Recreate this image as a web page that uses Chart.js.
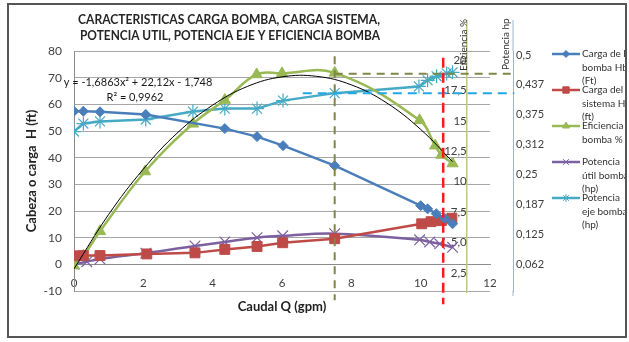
<!DOCTYPE html>
<html>
<head>
<meta charset="utf-8">
<script src="https://cdn.jsdelivr.net/npm/chart.js@4.4.1/dist/chart.umd.min.js"></script>
<style>
  html, body { margin: 0; padding: 0; background: #fff; }
  #wrap { position: relative; width: 629px; height: 342px; }
  #wrap canvas { position: absolute; left: 0; top: 0; }
  #frame { position: absolute; left: 7px; top: 3px; width: 616px; height: 331px; border: 2px solid #555; pointer-events: none; }
</style>
</head>
<body>
<div id="wrap">
  <canvas id="myChart" width="629" height="342"></canvas>
  <div id="frame"></div>
</div>
<script>
const qBomba = [0, 0.27, 0.75, 2.07, 4.35, 5.28, 6.03, 7.52, 10.0, 10.2, 10.45, 10.7, 10.92];
const hBomba = [57.4, 57.4, 57.2, 56.2, 50.9, 47.9, 44.5, 37.0, 22.0, 20.8, 19.0, 17.2, 15.2];

const qSistema = [0, 0.27, 0.75, 2.1, 3.49, 4.35, 5.28, 6.02, 7.52, 10.03, 10.3, 10.6, 10.9];
const hSistema = [3.2, 3.3, 3.3, 3.9, 4.3, 5.6, 6.7, 8.1, 9.6, 15.2, 16.0, 16.4, 17.3];

const qEficiencia = [0, 0.27, 0.75, 2.05, 3.43, 4.35, 5.27, 6.0, 7.52, 9.97, 10.42, 10.6, 10.92];
const eficiencia = [-0.5, 3.2, 12.4, 34.8, 52.7, 61.6, 71.2, 71.6, 71.8, 54.0, 44.5, 41.0, 37.8];

const qUtil = [0, 0.37, 0.75, 2.07, 3.49, 4.35, 5.28, 6.02, 7.52, 9.97, 10.26, 10.55, 10.92];
const potUtil = [0, 1.0, 2.0, 4.2, 6.9, 8.4, 10.0, 10.7, 11.5, 9.2, 8.4, 7.7, 6.4];

const qEje = [0, 0.27, 0.75, 2.07, 3.43, 4.35, 5.28, 6.03, 7.52, 9.95, 10.2, 10.46, 10.75, 10.92];
const potEje = [49.8, 52.8, 53.6, 54.3, 57.3, 58.4, 58.4, 61.4, 64.2, 66.7, 69.0, 70.5, 71.6, 72.0];

// linea de tendencia (polinomica)
const qTendencia = [0, 1, 2, 3, 4, 5, 6, 7, 8, 9, 10, 10.92];
const tendencia = [-1.7, 18.7, 35.7, 49.5, 59.7, 66.7, 70.3, 70.5, 67.3, 60.7, 50.6, 38.5];

// lineas guia punteadas
const qGuiaEf = [7.52, 7.52];
const yGuiaEf = [78, -13.5];
const qGuiaEfH = [7.52, 12.6];
const yGuiaEfH = [71.5, 71.5];
const qOperacion = [10.65, 10.65];
const yOperacion = [77.5, -15];
const qGuiaEje = [6.6, 12.7];
const yGuiaEje = [64.2, 64.2];

// ejes secundarios
const efTicks = [2.5, 5, 7.5, 10, 12.5, 15, 17.5, 20];
const efTickLabels = ['2,5', '5,0', '7,5', '10', '12,5', '15', '17,5', '20'];
const hpTicks = [0.0625, 0.125, 0.1875, 0.25, 0.3125, 0.375, 0.4375, 0.5];
const hpTickLabels = ['0,062', '0,125', '0,187', '0,25', '0,312', '0,375', '0,437', '0,5'];

const titulo = ['CARACTERISTICAS CARGA BOMBA, CARGA SISTEMA,', 'POTENCIA UTIL, POTENCIA EJE Y EFICIENCIA BOMBA'];
const leyenda = [
    ['Carga de la', 'bomba Hb', '(Ft)'],
    ['Carga del', 'sistema Hs', '(ft)'],
    ['Eficiencia', 'bomba %'],
    ['Potencia', 'útil bomba', '(hp)'],
    ['Potencia', 'eje bomba', '(hp)']
];

const colores = {
    bomba: '#4a7ebb',
    sistema: '#be4b48',
    eficiencia: '#98b954',
    util: '#7d60a0',
    eje: '#46aac5'
};
const marcas = [
    { style: 'rectRot', color: colores.bomba, r: 3.5 },
    { style: 'rect', color: colores.sistema, r: 4.5 },
    { style: 'triangle', color: colores.eficiencia, r: 4 },
    { style: 'crossRot', color: colores.util, r: 4 },
    { style: 'star', color: colores.eje, r: 4 }
];

function puntos(xs, ys) {
    return xs.map((x, i) => ({ x: x, y: ys[i] }));
}

function serie(label, xs, ys, color, style, radius, extra) {
    return Object.assign({
        label: label,
        data: puntos(xs, ys),
        borderColor: color,
        backgroundColor: color,
        borderWidth: 2.5,
        pointStyle: style,
        pointRadius: radius,
        pointBackgroundColor: color,
        pointBorderColor: color,
        pointBorderWidth: 1,
        tension: 0
    }, extra || {});
}

function guia(xs, ys, color, width, dash) {
    return {
        label: '',
        data: puntos(xs, ys),
        borderColor: color,
        borderWidth: width,
        borderDash: dash,
        pointRadius: 0,
        clip: false,
        order: -1
    };
}

const decoraciones = {
    id: 'decoraciones',
    afterDraw(chart) {
        const ctx = chart.ctx;
        const area = chart.chartArea;
        const xEf = chart.scales.x.getPixelForValue(11.33);
        const xHp = chart.scales.yHp.left;
        ctx.save();

        ctx.fillStyle = '#262626';
        ctx.textAlign = 'center';
        ctx.textBaseline = 'middle';
        ctx.font = 'bold 12.5px Lato';
        ctx.fillText(titulo[0], 229, 20, 302);
        ctx.fillText(titulo[1], 230, 36, 300);

        ctx.font = '11px Lato';
        ctx.fillStyle = '#1a1a1a';
        ctx.fillText('y = -1,6863x\u00b2 + 22,12x - 1,748', 138, 82, 152);
        ctx.fillText('R\u00b2 = 0,9962', 135, 97);

        // prolongacion de los ejes secundarios
        ctx.lineWidth = 1.5;
        ctx.strokeStyle = '#bfc97e';
        ctx.beginPath();
        ctx.moveTo(xEf, 20); ctx.lineTo(xEf, area.top);
        ctx.moveTo(xEf, area.bottom); ctx.lineTo(xEf, 293);
        ctx.stroke();
        ctx.lineWidth = 1;
        ctx.strokeStyle = '#9fb6cc';
        ctx.beginPath();
        ctx.moveTo(xHp, 20); ctx.lineTo(xHp, area.top);
        ctx.moveTo(xHp, area.bottom); ctx.lineTo(xHp, 296);
        ctx.stroke();

        ctx.font = '10px Lato';
        ctx.fillStyle = '#333';
        ctx.textAlign = 'left';
        ctx.save();
        ctx.translate(xEf - 3, 71);
        ctx.rotate(-Math.PI / 2);
        ctx.fillText('Eficiencia %', 0, 0);
        ctx.restore();
        ctx.save();
        ctx.translate(xHp - 7, 70);
        ctx.rotate(-Math.PI / 2);
        ctx.fillText('Potencia hp', 0, 0);
        ctx.restore();

        // leyenda
        ctx.beginPath();
        ctx.rect(0, 0, 625, 342);
        ctx.clip();
        ctx.font = '10px Lato';
        for (let i = 0; i < leyenda.length; i++) {
            const y = 54 + i * 36;
            const m = marcas[i];
            ctx.strokeStyle = m.color;
            ctx.fillStyle = m.color;
            ctx.lineWidth = 2.5;
            ctx.beginPath();
            ctx.moveTo(552, y);
            ctx.lineTo(580, y);
            ctx.stroke();
            ctx.lineWidth = 1;
            Chart.helpers.drawPoint(ctx, { pointStyle: m.style, radius: m.r, borderWidth: 1, rotation: 0 }, 566, y);
            ctx.fillStyle = '#333';
            for (let k = 0; k < leyenda[i].length; k++) {
                ctx.fillText(leyenda[i][k], 582, y + k * 13.3);
            }
        }
        ctx.restore();
    }
};

Chart.defaults.font.family = 'Lato';
Chart.defaults.color = '#404040';

const ctx = document.getElementById('myChart');

new Chart(ctx, {
    type: 'line',
    data: {
        datasets: [
            guia(qGuiaEf, yGuiaEf, '#7f8648', 2, [8, 6]),
            guia(qGuiaEfH, yGuiaEfH, '#7f8648', 2, [8, 6]),
            guia(qOperacion, yOperacion, '#ff1a1a', 2.5, [10, 5]),
            guia(qGuiaEje, yGuiaEje, '#22a8e6', 2, [9, 6]),
            {
                label: 'Tendencia',
                data: puntos(qTendencia, tendencia),
                borderColor: '#000',
                borderWidth: 1,
                pointRadius: 0,
                tension: 0.4
            },
            serie('Carga de la bomba Hb (Ft)', qBomba, hBomba, colores.bomba, 'rectRot', 5),
            serie('Carga del sistema Hs (ft)', qSistema, hSistema, colores.sistema, 'rect', 7),
            serie('Eficiencia bomba %', qEficiencia, eficiencia, colores.eficiencia, 'triangle', 6.5, { tension: 0.4 }),
            serie('Potencia útil bomba (hp)', qUtil, potUtil, colores.util, 'crossRot', 7.5, { tension: 0.4, pointBorderWidth: 1.2 }),
            serie('Potencia eje bomba (hp)', qEje, potEje, colores.eje, 'star', 7, { pointBorderWidth: 1.2 })
        ]
    },
    options: {
        responsive: false,
        animation: false,
        events: [],
        layout: {
            padding: { left: 0, right: 74, top: 51, bottom: 51 }
        },
        scales: {
            x: {
                type: 'linear',
                position: { y: 0 },
                min: 0,
                max: 12,
                grid: { display: false, drawTicks: false },
                border: { display: true, color: '#8c8c8c', width: 1 },
                ticks: {
                    stepSize: 2,
                    padding: 12,
                    font: { size: 11.5 },
                    color: '#404040'
                },
                title: {
                    display: true,
                    text: 'Caudal Q (gpm)',
                    color: '#222',
                    font: { size: 13, weight: 'bold' },
                    padding: { top: -3, bottom: 0 }
                }
            },
            y: {
                type: 'linear',
                position: 'left',
                min: -10,
                max: 80,
                afterFit: (s) => { s.width = 74; },
                grid: { color: '#a6a6a6', lineWidth: 1, drawTicks: false },
                border: { display: true, color: '#8c8c8c', width: 1 },
                ticks: {
                    stepSize: 10,
                    padding: 12,
                    font: { size: 12 },
                    color: '#404040'
                },
                title: {
                    display: true,
                    text: 'Cabeza o carga  H (ft)',
                    color: '#222',
                    font: { size: 13, weight: 'bold' },
                    padding: { top: 24, bottom: 0 }
                }
            },
            yEf: {
                type: 'linear',
                axis: 'y',
                position: { x: 11.33 },
                min: 1.02,
                max: 20.74,
                afterBuildTicks: (s) => { s.ticks = efTicks.map(v => ({ value: v })); },
                grid: { display: false, drawTicks: false },
                border: { display: true, color: '#bfc97e', width: 1.5 },
                ticks: {
                    autoSkip: false,
                    padding: -27,
                    font: { size: 11.5 },
                    color: '#404040',
                    callback: (v) => {
                        const i = efTicks.indexOf(v);
                        return i >= 0 ? efTickLabels[i] : '';
                    }
                }
            },
            yGap: {
                type: 'linear',
                axis: 'y',
                position: 'right',
                weight: 0,
                afterFit: (s) => { s.width = 23; },
                grid: { display: false, drawTicks: false },
                border: { display: false },
                ticks: { display: false }
            },
            yHp: {
                type: 'linear',
                axis: 'y',
                position: 'right',
                weight: 1,
                min: 0.006,
                max: 0.5084,
                afterFit: (s) => { s.width = 42; },
                afterBuildTicks: (s) => { s.ticks = hpTicks.map(v => ({ value: v })); },
                grid: { display: false, drawTicks: false },
                border: { display: true, color: '#9fb6cc', width: 1 },
                ticks: {
                    autoSkip: false,
                    padding: 3,
                    font: { size: 11 },
                    color: '#404040',
                    callback: (v) => {
                        const i = hpTicks.indexOf(v);
                        return i >= 0 ? hpTickLabels[i] : '';
                    }
                }
            }
        },
        plugins: {
            legend: { display: false },
            tooltip: { enabled: false }
        }
    },
    plugins: [decoraciones]
});
</script>
</body>
</html>
